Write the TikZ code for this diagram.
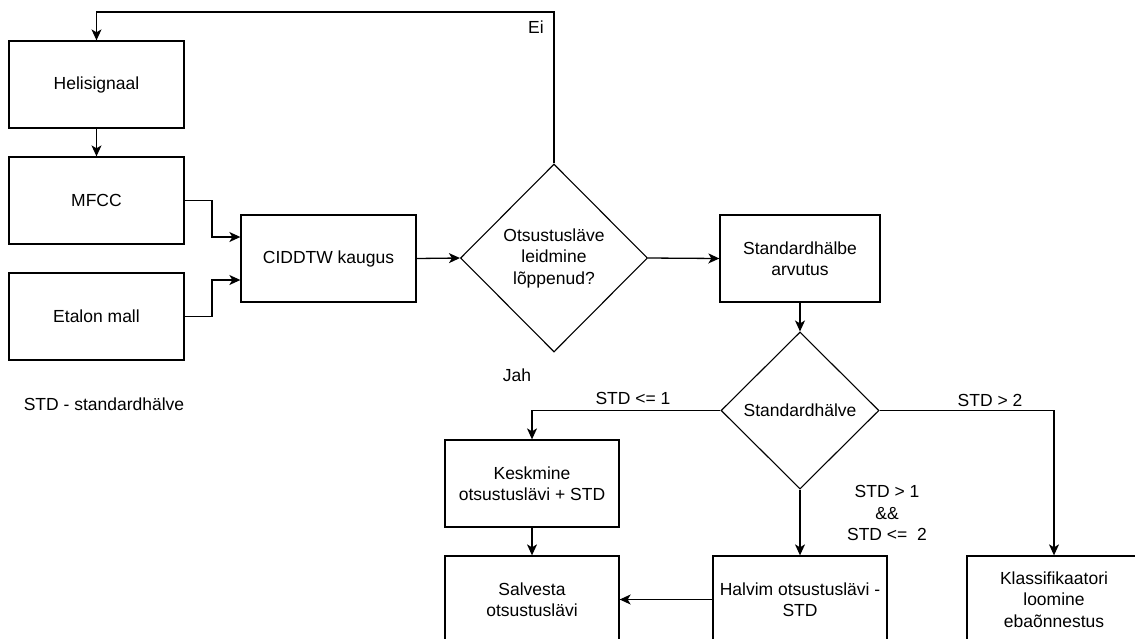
\documentclass[tikz,border=0pt]{standalone}
\usepackage{fontspec}
\setmainfont{Liberation Sans}
\usetikzlibrary{shapes.geometric,arrows.meta}
\begin{document}
\begin{tikzpicture}[x=1pt,y=-1pt,
  every node/.style={font=\fontsize{17.5}{21.5}\selectfont, align=center},
  stepbox/.style={draw, line width=1.3pt, minimum width=175pt, minimum height=87pt, inner sep=0pt},
  decision/.style={draw, line width=1.1pt, diamond, inner sep=0pt},
  conn/.style={line width=1.3pt, -{Stealth[length=11pt,width=10pt,inset=3pt]}},
  lbl/.style={inner sep=0pt}
]
\path[use as bounding box, clip] (0,0) rectangle (1135,638);
\fill[white] (0,0) rectangle (1135,638);

\node[stepbox] (hel) at (96.5,84.5) {Helisignaal};
\node[stepbox] (mfcc) at (96.5,200.5) {MFCC};
\node[stepbox] (etal) at (96.5,316.5) {Etalon mall};
\node[stepbox] (cid) at (328.5,258.5) {CIDDTW kaugus};
\node[decision, minimum width=187pt, minimum height=188pt] (d1) at (554,258) {Otsustusläve\\leidmine\\lõppenud?};
\node[stepbox, minimum width=160pt] (std) at (800,258.5) {Standardhälbe\\arvutus};
\node[decision, minimum width=158pt, minimum height=157pt] (d2) at (800,410.5) {Standardhälve};
\node[stepbox, minimum width=174pt] (kesk) at (532,483.5) {Keskmine\\otsustuslävi + STD};
\node[stepbox, minimum width=174pt] (salv) at (532,599.5) {Salvesta\\otsustuslävi};
\node[stepbox, minimum width=174pt] (halv) at (800,599.5) {Halvim otsustuslävi -\\STD};
\node[stepbox, minimum width=174pt] (klas) at (1054,599.5) {Klassifikaatori\\loomine\\ebaõnnestus};

\coordinate (loopR) at (554,12);
\coordinate (loopL) at (96.5,12);
\coordinate (j1a) at (212,200.5);
\coordinate (j1b) at (212,237);
\coordinate (j2a) at (212,316.5);
\coordinate (j2b) at (212,280);
\coordinate (kL) at (532,410.5);
\coordinate (kR) at (1054,410.5);

\draw[conn] (d1.north) -- (loopR) -- (loopL) -- (hel.north);
\draw[conn] (hel.south) -- (mfcc.north);
\draw[conn] (mfcc.east) -- (j1a) -- (j1b) -- (cid.west |- j1b);
\draw[conn] (etal.east) -- (j2a) -- (j2b) -- (cid.west |- j2b);
\draw[conn] (cid.east) -- (d1.west);
\draw[conn] (d1.east) -- (std.west);
\draw[conn] (std.south) -- (d2.north);
\draw[conn] (d2.west) -- (kL) -- (kesk.north);
\draw[conn] (d2.east) -- (kR) -- (klas.north);
\draw[conn] (d2.south) -- (halv.north);
\draw[conn] (kesk.south) -- (salv.north);
\draw[conn] (halv.west) -- (salv.east);

\node[lbl] (lei) at (536,27) {Ei};
\node[lbl] (ljah) at (517,375) {Jah};
\node[lbl] (lle1) at (633,398) {STD <= 1};
\node[lbl] (lgt2) at (990,400) {STD > 2};
\node[lbl] (lmid) at (887,513) {STD > 1\\\&\&\\STD <=\ \ 2};
\node[lbl] (leg) at (104,404) {STD - standardhälve};
\end{tikzpicture}
\end{document}
